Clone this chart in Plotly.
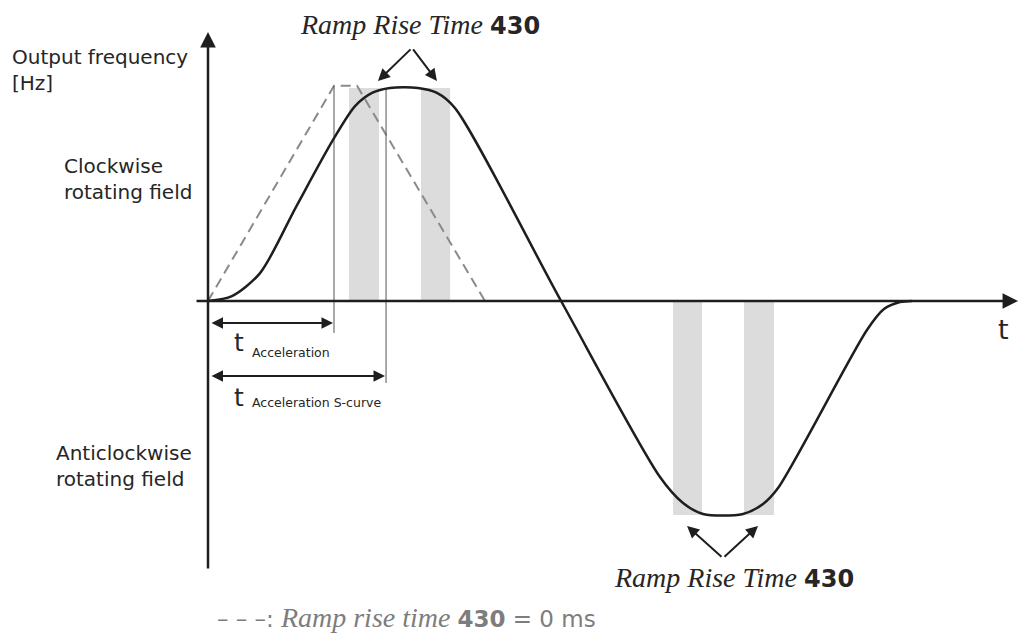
import plotly.graph_objects as go

# ---------------- data (t: time, 1 = t_Acceleration ; f: frequency, 1 = f_max) ----------------
curve_t = [0, 0.19, 0.413, 0.698, 0.992, 1.167, 1.302, 1.444, 1.667, 1.817, 1.96, 2.802,
           3.587, 3.77, 3.929, 4.246, 4.405, 4.524, 5.23, 5.365, 5.492, 5.587]
curve_f = [0, 0.023, 0.131, 0.441, 0.756, 0.915, 0.977, 1.0, 1.0, 0.977, 0.906, 0.0,
           -0.826, -0.948, -1.0, -1.0, -0.953, -0.878, -0.136, -0.038, -0.005, 0]

dash_t = [0, 1.0, 1.183, 2.198]
dash_f = [0, 1.01, 1.01, 0]

band_center = [1.238, 1.806, 3.806, 4.373]
band_width = [0.238, 0.231, 0.230, 0.238]
band_height = [1.0, 1.0, -1.005, -1.005]

vline_t = [1.0, 1.413]
vline_top = [1.01, 1.0]
vline_bottom = [-0.150, -0.385]

span_end = [0.992, 1.405]
span_f = [-0.103, -0.352]

ramp_vertex = [(1.619, 1.188), (4.087, -1.207)]
ramp_tips = [[(1.349, 1.033), (1.817, 1.033)], [(3.802, -1.056), (4.365, -1.056)]]

X_RANGE = [-1.6508, 6.4444]
Y_RANGE = [-1.5775, 1.4131]

INK = "#1e1e1e"
TXT = "#262626"
GREY_TXT = "#7d7d7d"

fig = go.Figure()

# grey bands (ramp rise time regions)
fig.add_trace(go.Bar(x=band_center, y=band_height, base=[0] * 4, width=band_width,
                     marker=dict(color="#dcdcdc", line=dict(width=0)), hoverinfo="skip"))

# dashed reference (ramp rise time = 0)
fig.add_trace(go.Scatter(x=dash_t, y=dash_f, mode="lines",
                         line=dict(color="#8a8a8a", width=2, dash="10px,6px")))

# thin vertical markers
for t, a, b in zip(vline_t, vline_top, vline_bottom):
    fig.add_trace(go.Scatter(x=[t, t], y=[a, b], mode="lines",
                             line=dict(color="#555555", width=1)))

# main S-curve
fig.add_trace(go.Scatter(x=curve_t, y=curve_f, mode="lines",
                         line=dict(color=INK, width=2.5, shape="spline", smoothing=0.8)))

ann = []


def arrow(tip, tail, w=2, size=1.0, head=2, both=False):
    d = dict(x=tip[0], y=tip[1], ax=tail[0], ay=tail[1], xref="x", yref="y",
             axref="x", ayref="y", text="", showarrow=True, arrowhead=head,
             arrowsize=size, arrowwidth=w, arrowcolor=INK, standoff=0)
    if both:
        d.update(arrowside="end+start", startarrowhead=head, startarrowsize=size,
                 startstandoff=0)
    return d


# axes
ann.append(arrow((0, 1.263), (0, -1.263), w=2.5, size=1.25))
ann.append(arrow((6.43, 0), (-0.103, 0), w=2.5, size=1.25))

# acceleration spans
for e, f in zip(span_end, span_f):
    ann.append(arrow((e, f), (0.016, f), w=2, size=1.15, both=True))

# ramp rise time arrows
for v, tips in zip(ramp_vertex, ramp_tips):
    for tp in tips:
        ann.append(arrow(tp, v, w=2, size=1.2))

SANS = "DejaVu Sans"
SERIF = "Liberation Serif"


def label(t, f, text, size, family=SANS, color=TXT, xanchor="left", align="left"):
    return dict(x=t, y=f, xref="x", yref="y", text=text, showarrow=False,
                xanchor=xanchor, yanchor="middle", align=align,
                font=dict(family=family, size=size, color=color))


ann.append(label(-1.571, 1.085, "Output frequency<br>[Hz]", 20))
ann.append(label(-1.159, 0.573, "Clockwise<br>rotating field", 20))
ann.append(label(-1.222, -0.775, "Anticlockwise<br>rotating field", 20))

ann.append(label(0.19, -0.197, "t", 25))
ann.append(label(0.333, -0.242, "Acceleration", 12.5))
ann.append(label(0.19, -0.451, "t", 25))
ann.append(label(0.333, -0.477, "Acceleration S-curve", 12.5))
ann.append(label(6.31, -0.136, "t", 27, xanchor="center"))

ramp_txt = ('<i>Ramp Rise Time</i> <span style="font-family:DejaVu Sans;font-size:24px">'
            '<b>430</b></span>')
ann.append(label(1.683, 1.296, ramp_txt, 28, family=SERIF, xanchor="center"))
ann.append(label(4.175, -1.296, ramp_txt, 28, family=SERIF, xanchor="center"))

legend_txt = ('<span style="font-family:DejaVu Sans;font-size:23px">– – –:</span> '
              '<i>Ramp rise time</i> <span style="font-family:DejaVu Sans;font-size:23px">'
              '<b>430</b> = 0 ms</span>')
ann.append(label(0.056, -1.488, legend_txt, 28, family=SERIF, color=GREY_TXT))

fig.update_layout(
    width=1020, height=637, margin=dict(l=0, r=0, t=0, b=0),
    paper_bgcolor="white", plot_bgcolor="white", showlegend=False,
    barmode="overlay", annotations=ann,
    xaxis=dict(range=X_RANGE, visible=False, fixedrange=True),
    yaxis=dict(range=Y_RANGE, visible=False, fixedrange=True),
)

fig.write_html("out.html", config={"displayModeBar": False},
               post_script="document.body.style.margin='0';")
